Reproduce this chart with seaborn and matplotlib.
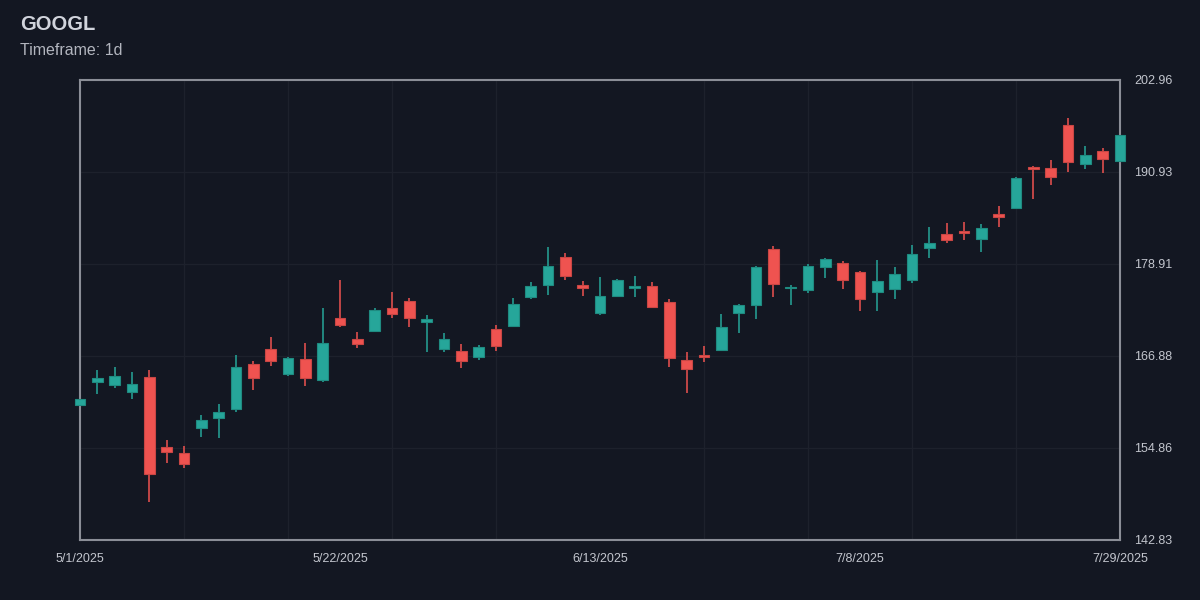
import matplotlib
matplotlib.use("Agg")
import matplotlib.pyplot as plt
import seaborn as sns
import pandas as pd
import numpy as np

# daily OHLC
opens = [160.48, 163.49, 163.09, 162.18, 164.14, 155.00, 154.20, 157.48, 158.78, 159.96,
         165.84, 167.80, 164.53, 166.49, 163.75, 171.85, 169.11, 170.15, 173.16, 174.08,
         171.37, 167.84, 167.54, 166.76, 170.42, 170.85, 174.60, 176.21, 179.79, 176.17,
         172.47, 174.77, 175.73, 176.04, 173.98, 166.32, 166.98, 167.63, 172.47, 173.55,
         180.83, 175.73, 175.55, 178.52, 179.08, 177.90, 175.25, 175.64, 176.78, 181.04,
         182.83, 183.26, 182.18, 185.45, 186.27, 191.55, 191.50, 197.04, 192.02, 193.68,
         192.41]
highs = [162.04, 165.05, 165.45, 164.79, 165.05, 155.90, 155.12, 159.18, 160.61, 167.02,
         166.23, 169.37, 166.76, 168.59, 173.16, 176.82, 170.02, 173.16, 175.25, 174.47,
         172.24, 169.89, 168.49, 168.32, 170.94, 174.47, 176.52, 181.13, 180.39, 176.73,
         177.17, 176.99, 177.38, 176.56, 174.34, 167.41, 168.23, 172.38, 173.68, 178.69,
         181.30, 176.13, 178.91, 179.73, 179.30, 178.04, 179.43, 178.48, 181.43, 183.71,
         184.23, 184.36, 184.10, 186.49, 190.32, 191.72, 192.54, 197.99, 194.33, 194.07,
         195.90]
lows = [159.04, 161.91, 162.70, 161.26, 147.80, 152.90, 152.24, 156.30, 156.17, 159.57,
        162.44, 165.58, 164.27, 162.96, 163.49, 170.68, 167.93, 170.02, 171.85, 170.68,
        167.45, 167.45, 165.32, 166.36, 167.54, 170.80, 174.38, 174.90, 176.78, 174.77,
        172.30, 174.64, 174.60, 173.20, 165.49, 162.01, 166.14, 167.50, 169.94, 171.76,
        174.60, 173.55, 175.08, 177.08, 175.64, 172.81, 172.81, 174.38, 176.47, 179.73,
        181.62, 182.05, 180.52, 183.71, 186.10, 187.45, 189.20, 190.97, 191.29, 190.84,
        192.30]
closes = [161.26, 164.01, 164.27, 163.22, 151.46, 154.33, 152.76, 158.52, 159.57, 165.45,
          164.01, 166.23, 166.62, 164.01, 168.59, 170.94, 168.46, 172.90, 172.38, 171.85,
          171.76, 169.07, 166.23, 168.06, 168.19, 173.68, 176.07, 178.65, 177.38, 175.73,
          174.69, 176.82, 175.99, 173.33, 166.66, 165.23, 166.80, 170.68, 173.55, 178.56,
          176.26, 175.90, 178.69, 179.56, 176.78, 174.38, 176.65, 177.64, 180.22, 181.62,
          182.05, 183.00, 183.62, 185.09, 190.11, 191.33, 190.28, 192.20, 193.20, 192.63,
          195.77]

# trading days, 2025 US market holidays skipped
holidays = ["2025-05-26", "2025-06-19", "2025-07-04"]
dates = pd.bdate_range("2025-05-01", "2025-07-29", freq="C", holidays=holidays)

y_min, y_max = 142.83, 202.96

df = pd.DataFrame({"date": dates, "open": opens, "high": highs, "low": lows, "close": closes})
df["i"] = np.arange(len(df))
df["up"] = df["close"] >= df["open"]

bg = "#131722"
up_col, down_col = "#26a69a", "#ef5350"
up_edge, down_edge = "#1f8b81", "#c94644"

sns.set_theme(style="dark")
plt.rcParams["font.family"] = ["Liberation Sans", "DejaVu Sans"]

fig = plt.figure(figsize=(12, 6), dpi=100, facecolor=bg)
ax = fig.add_axes([80 / 1200, 60 / 600, 1040 / 1200, 460 / 600], facecolor=bg)

colors = np.where(df["up"], up_col, down_col)
edges = np.where(df["up"], up_edge, down_edge)

ax.vlines(df["i"], df["low"], df["high"], colors=colors, linewidth=1.1, zorder=2, clip_on=False)
body_lo = df[["open", "close"]].min(axis=1)
body_h = (df["open"] - df["close"]).abs()
ax.bar(df["i"], body_h, bottom=body_lo, width=0.6, color=colors, edgecolor=edges,
       linewidth=0.8, zorder=3, clip_on=False)

ax.set_xlim(0, len(df) - 1)
ax.set_ylim(y_min, y_max)

tick_idx = [0, 15, 30, 45, 60]
ax.set_xticks(tick_idx)
ax.set_xticklabels([f"{d.month}/{d.day}/{d.year}" for d in df["date"].iloc[tick_idx]])
ax.set_xticks(np.linspace(0, len(df) - 1, 11), minor=True)
y_ticks = np.linspace(y_min, y_max, 6)
ax.set_yticks(y_ticks)
ax.set_yticklabels([f"{v:.2f}" for v in y_ticks])
ax.yaxis.tick_right()

ax.tick_params(axis="both", which="both", length=0, labelsize=9, colors="#c3c6ce")
ax.tick_params(axis="x", pad=9)
ax.tick_params(axis="y", pad=10)
ax.grid(False)
ax.grid(True, which="minor", axis="x", color="#1d212c", linewidth=1)
ax.grid(True, which="major", axis="y", color="#1d212c", linewidth=1)
ax.set_axisbelow(True)
for s in ax.spines.values():
    s.set_visible(True)
    s.set_color("#8b8e97")
    s.set_linewidth(1.5)

fig.text(20 / 1200, 1 - 30 / 600, "GOOGL", fontsize=14.5, fontweight="bold", color="#d1d4dc", va="baseline")
fig.text(20 / 1200, 1 - 55 / 600, "Timeframe: 1d", fontsize=11.5, color="#b2b5be", va="baseline")

fig.savefig("out.png", dpi=100, facecolor=bg)
